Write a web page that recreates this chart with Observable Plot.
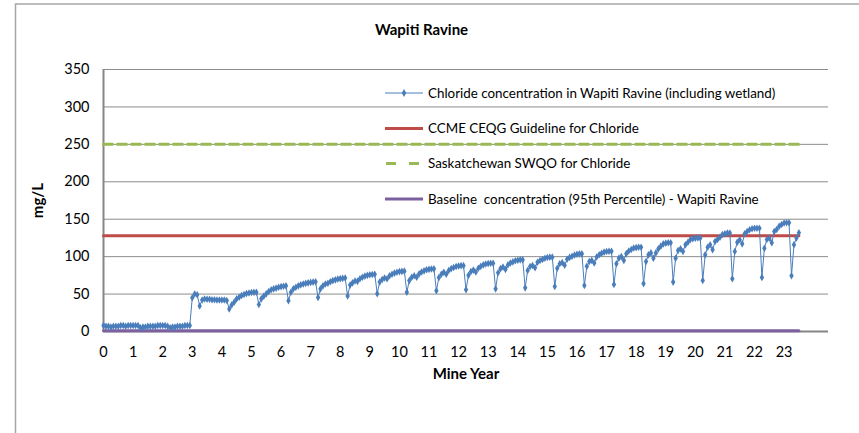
<!DOCTYPE html>
<html>
<head>
<meta charset="utf-8">
<script src="https://cdn.jsdelivr.net/npm/d3@7"></script>
<script src="https://cdn.jsdelivr.net/npm/@observablehq/plot@0.6"></script>
<style>
  html, body { margin: 0; padding: 0; background: #fff; }
  #chart { width: 859px; height: 433px; overflow: hidden; position: relative; }
</style>
</head>
<body>
<div id="chart"></div>
<script>
// ---------- DATA (mg/L, monthly values for each mine year) ----------
const title = "Wapiti Ravine";
const xTitle = "Mine Year";
const yTitle = "mg/L";
const xTicks = [0,1,2,3,4,5,6,7,8,9,10,11,12,13,14,15,16,17,18,19,20,21,22,23];
const yTicks = [0,50,100,150,200,250,300,350];

const chlorideYear00 = [8, 7, 7, 6, 7, 7, 7, 8, 8, 7, 8, 8];
const chlorideYear01 = [8, 8, 8, 5, 6, 6, 7, 7, 7, 7, 8, 8];
const chlorideYear02 = [8, 8, 7, 5, 6, 6, 7, 7, 7, 8, 8, 8];
const chlorideYear03 = [45, 50, 49, 34, 42, 43.5, 43, 43, 42.5, 42.5, 42, 42];
const chlorideYear04 = [42, 42, 41.5, 30, 35.6, 39.2, 43.6, 45.8, 48.1, 49.4, 50.8, 51.5];
const chlorideYear05 = [52, 52.3, 52.5, 36, 43.6, 47.2, 50.3, 53.4, 55.7, 57, 57.9, 59.2];
const chlorideYear06 = [60, 60.5, 61, 41, 52.5, 57, 59.2, 61, 62.3, 63.5, 64.3, 65];
const chlorideYear07 = [65.6, 66, 66.5, 45.5, 57, 61, 63.5, 64.5, 66.5, 68, 69, 70];
const chlorideYear08 = [70.6, 71, 71.5, 47.5, 62, 65, 67.5, 67, 70.5, 72.5, 74, 75];
const chlorideYear09 = [75.8, 76.2, 76.5, 50.5, 66, 69.5, 71.5, 70.5, 74.5, 76.5, 78, 79.2];
const chlorideYear10 = [80, 80.3, 80.6, 52.5, 68, 72.5, 74.5, 72.5, 77, 79.5, 81, 82.5];
const chlorideYear11 = [83, 83.4, 83.7, 54.5, 72, 76.5, 79, 76.5, 81.5, 84, 85.5, 86.8];
const chlorideYear12 = [87.5, 88, 88, 55.7, 75, 80, 82, 79.5, 84.5, 87, 89, 90.2];
const chlorideYear13 = [90.8, 91.2, 91.2, 57, 78.5, 84, 86, 83, 89, 91.5, 93, 94.5];
const chlorideYear14 = [95.2, 95.7, 95.7, 58.3, 81.5, 86.8, 88.2, 85.1, 92.6, 94.8, 96.2, 97.9];
const chlorideYear15 = [98.8, 99.3, 99.3, 60.1, 84.5, 90.5, 92, 88.5, 96.5, 99, 100.5, 102.3];
const chlorideYear16 = [103.2, 103.7, 103.7, 61.4, 87, 93.5, 95, 91.5, 99.5, 102.5, 104.5, 106];
const chlorideYear17 = [106.8, 107.3, 107.3, 62.8, 90.5, 98, 100, 95, 104, 107.5, 109.5, 111.5];
const chlorideYear18 = [112, 112.6, 112.6, 64, 93.5, 102.4, 105, 97.9, 105, 110.4, 114, 117];
const chlorideYear19 = [118, 118.5, 118.5, 66, 97.9, 108.2, 110.4, 106.9, 115.8, 119.3, 122.9, 124];
const chlorideYear20 = [124.6, 125, 125, 68.1, 102.4, 112.6, 115.8, 109.1, 120.2, 122.9, 126, 129.5];
const chlorideYear21 = [130.5, 131.5, 131.5, 70.4, 106.9, 119.3, 122.5, 117.1, 130.5, 133.6, 136, 137.2];
const chlorideYear22 = [138, 138, 138, 72.3, 111.3, 122.9, 124.6, 118.5, 133.6, 136.3, 140.7, 143];
const chlorideYear23 = [145, 145.2, 145.2, 74.5, 116, 125, 132];

const ccmeGuideline = 128;   // CCME CEQG Guideline for Chloride
const saskSWQO = 250;        // Saskatchewan SWQO for Chloride
const baseline95 = 1;        // Baseline concentration (95th percentile)

const seriesNames = [
  "Chloride concentration in Wapiti Ravine (including wetland)",
  "CCME CEQG Guideline for Chloride",
  "Saskatchewan SWQO for Chloride",
  "Baseline  concentration (95th Percentile) - Wapiti Ravine"
];
const seriesColors = ["#4a7ebb", "#be4b48", "#98b954", "#7d60a0"];

// ---------- BUILD ----------
const chlorideYears = [
  chlorideYear00, chlorideYear01, chlorideYear02, chlorideYear03, chlorideYear04,
  chlorideYear05, chlorideYear06, chlorideYear07, chlorideYear08, chlorideYear09,
  chlorideYear10, chlorideYear11, chlorideYear12, chlorideYear13, chlorideYear14,
  chlorideYear15, chlorideYear16, chlorideYear17, chlorideYear18, chlorideYear19,
  chlorideYear20, chlorideYear21, chlorideYear22, chlorideYear23
];
const chloride = chlorideYears.flatMap((vals, y) => vals.map((v, m) => ({year: y + m / 12, value: v})));
const lastYear = chloride[chloride.length - 1].year;
const flatSeries = v => [{year: 0, value: v}, {year: lastYear, value: v}];

const FONT = "Lato, Carlito, Calibri, 'Noto Sans', sans-serif";

const plot = Plot.plot({
  width: 859,
  height: 433,
  marginLeft: 103,
  marginRight: 31,
  marginTop: 69,
  marginBottom: 102,
  style: {fontFamily: FONT, fontSize: "14.5px", color: "#000", background: "#fff", overflow: "visible"},
  x: {domain: [0, 24.5], ticks: xTicks, tickSize: 0, tickPadding: 15, label: null, tickFormat: d => String(d)},
  y: {domain: [0, 350], ticks: yTicks, tickSize: 0, tickPadding: 14, label: null},
  marks: [
    Plot.gridY(yTicks.filter(d => d > 0), {stroke: "#8c8c8c", strokeOpacity: 1, strokeWidth: 1}),
    Plot.ruleX([0], {stroke: "#868686", strokeWidth: 2}),
    Plot.ruleY([0], {stroke: "#868686", strokeWidth: 2}),
    Plot.line(flatSeries(saskSWQO), {x: "year", y: "value", stroke: seriesColors[2], strokeWidth: 3, strokeDasharray: "9,5"}),
    Plot.line(flatSeries(baseline95), {x: "year", y: "value", stroke: seriesColors[3], strokeWidth: 3}),
    Plot.line(flatSeries(ccmeGuideline), {x: "year", y: "value", stroke: seriesColors[1], strokeWidth: 3}),
    Plot.line(chloride, {x: "year", y: "value", stroke: seriesColors[0], strokeWidth: 1}),
    Plot.dot(chloride, {x: "year", y: "value", symbol: "diamond", r: 2.3, fill: seriesColors[0], stroke: "none"}),
    Plot.text([title], {frameAnchor: "top-left", dx: 318, dy: -39, text: d => d, fontWeight: "bold", fontSize: 15, textAnchor: "middle", lineAnchor: "middle", fill: "#000"}),
    Plot.text([xTitle], {frameAnchor: "bottom", dy: 43, text: d => d, fontWeight: "bold", fontSize: 15, textAnchor: "middle", lineAnchor: "middle", fill: "#000"}),
    Plot.text([yTitle], {frameAnchor: "left", dx: -65, text: d => d, fontWeight: "bold", fontSize: 15, rotate: -90, textAnchor: "middle", lineAnchor: "middle", fill: "#000"})
  ]
});

document.getElementById("chart").appendChild(plot);

// ---------- chart-area border & legend ----------
const svg = d3.select(plot);
svg.insert("path", ":first-child")
  .attr("d", "M15.5,433 V4 H859")
  .attr("fill", "none").attr("stroke", "#a6a6a6").attr("stroke-width", 1.5);

const legendY = [93, 128.5, 163.5, 199];
const lg = svg.append("g").attr("font-family", FONT).attr("font-size", 13.4).attr("text-anchor", "start");
seriesNames.forEach((name, i) => {
  const g = lg.append("g").attr("transform", `translate(0,${legendY[i]})`);
  const line = g.append("line").attr("x1", 385).attr("x2", 423).attr("y1", 0).attr("y2", 0)
    .attr("stroke", seriesColors[i]).attr("stroke-width", i === 0 ? 1 : 3);
  if (i === 2) line.attr("stroke-dasharray", "10,13").attr("x1", 386);
  if (i === 0) g.append("path").attr("d", d3.symbol(d3.symbolDiamond, 18)()).attr("transform", "translate(404,0)").attr("fill", seriesColors[0]);
  g.append("text").attr("x", 428).attr("y", 0).attr("dy", "0.35em").attr("text-anchor", "start").attr("fill", "#000").text(name);
});
</script>
</body>
</html>
